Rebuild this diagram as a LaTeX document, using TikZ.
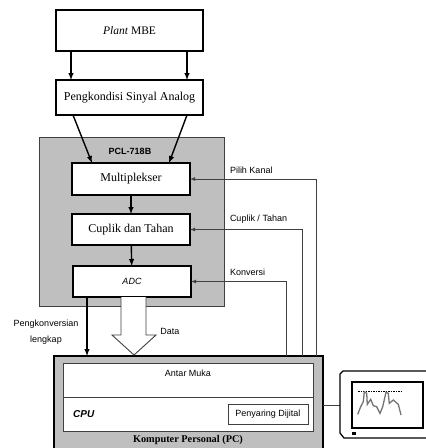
\documentclass[tikz,border=0pt]{standalone}
\usepackage{fontspec}
\setmainfont{Liberation Serif}
\setsansfont{Liberation Sans}
\usepackage{xcolor}
\usetikzlibrary{calc, arrows, positioning}
\definecolor{panelgray}{gray}{0.75}
\definecolor{edgegray}{gray}{0.25}
\tikzset{
  unit/.style={draw,line width=1.6pt,fill=white,inner sep=0pt,outer sep=0pt,font=\fontsize{12}{14}\selectfont},
  panel/.style={draw=edgegray,line width=0.8pt,fill=panelgray,inner sep=0pt,outer sep=0pt},
  thinbox/.style={draw=edgegray,line width=0.9pt,fill=white,inner sep=0pt,outer sep=0pt},
  note/.style={inner sep=0pt,outer sep=0pt,font=\sffamily\fontsize{9}{11}\selectfont},
  sigarrow/.style={-latex, line width=1.4pt},
  ctrlarrow/.style={-latex, line width=0.8pt, color=edgegray},
  wireline/.style={line width=0.9pt, color=edgegray}
}

\begin{document}
\begin{tikzpicture}[x=1pt,y=-1pt]
  \useasboundingbox (0,0) rectangle (426,448);
  \node[unit, minimum width=147pt, minimum height=41pt] (plant) at (129.5,30.5) {\fontsize{11.5}{14}\selectfont\textit{Plant} MBE};
  \node[unit, minimum width=147pt, minimum height=35pt, below=29pt of plant] (cond) {Pengkondisi Sinyal Analog};
  \draw[sigarrow] ($(plant.south west)+(15,0)$) -- ($(cond.north west)+(15,0)$);
  \draw[sigarrow] ($(plant.south east)+(-16,0)$) -- ($(cond.north east)+(-16,0)$);

  \node[panel, minimum width=185pt, minimum height=169pt] (pcl) at (131.5,221.5) {};
  \node[inner sep=0pt, font=\sffamily\bfseries\fontsize{9}{11}\selectfont] (pcllabel) at (130,151) {PCL-718B};
  \node[unit, minimum width=118pt, minimum height=32pt] (mux) at (131,179) {Multiplekser};
  \node[unit, minimum width=118pt, minimum height=31pt, below=19pt of mux] (sh) {Cuplik dan Tahan};
  \node[unit, minimum width=118pt, minimum height=31pt, below=21pt of sh, xshift=1pt, font=\sffamily\itshape\fontsize{9}{11}\selectfont] (adc) {ADC};
  \draw[sigarrow] ($(cond.south west)+(17,0)$) -- ($(mux.north west)+(20,0)$);
  \draw[sigarrow] ($(cond.south east)+(-16,0)$) -- ($(mux.north east)+(-21,0)$);
  \draw[sigarrow] (mux) -- (sh);
  \draw[sigarrow] (sh) -- (adc);

  \node[fill=panelgray, inner sep=0pt, outer sep=0pt, minimum width=269pt, minimum height=92pt] (pc) at (188.5,402) {};
  \draw[line width=2pt] (pc.south west) -- (pc.north west) -- (pc.north east) -- (pc.south east);
  \node[thinbox, minimum width=250pt, minimum height=34pt] (iface) at (188,380) {};
  \node[note, below=7pt of iface.north] (ifacetext) {Antar Muka};
  \node[thinbox, minimum width=250pt, minimum height=34pt, below=0pt of iface] (cpu) {};
  \node[thinbox, minimum width=80pt, minimum height=20pt, left=5pt of cpu.east, font=\sffamily\fontsize{9}{11}\selectfont] (filter) {Penyaring Dijital};
  \node[inner sep=0pt, right=10pt of cpu.west, font=\sffamily\bfseries\itshape\fontsize{10}{12}\selectfont] (cputext) {CPU};
  \node[inner sep=0pt, below=4pt of cpu, font=\bfseries\fontsize{10.3}{12}\selectfont] (pctext) {Komputer Personal (PC)};

  \coordinate (pilih) at ($(pc.north west)+(262,0)$);
  \coordinate (cuplik) at ($(pc.north west)+(248,0)$);
  \coordinate (konv) at ($(pc.north west)+(232.5,0)$);
  \draw[ctrlarrow] (pilih) |- (mux.east);
  \draw[ctrlarrow] (cuplik) |- (sh.east);
  \draw[ctrlarrow] (konv) |- (adc.east);
  \node[note, anchor=west] (pilihtext) at (230,170) {Pilih Kanal};
  \node[note, anchor=west] (cupliktext) at (230,219) {Cuplik / Tahan};
  \node[note, anchor=west] (konvtext) at (230,272) {Konversi};

  \coordinate (eoc) at ($(adc.south west)+(14,0)$);
  \draw[sigarrow] (eoc) -- (eoc |- pc.north);
  \node[note] (eoctext) at (46,324) {Pengkonversian};
  \node[note] (eoctexttwo) at (46,340) {lengkap};

  \coordinate (dataleft) at ($(adc.south west)+(48,0)$);
  \coordinate (dataright) at ($(adc.south west)+(73,0)$);
  \draw[wireline, fill=white, line join=miter] (dataleft) -- ++(0,38) -- ++(-9,0) -- (134,355) -- ($(dataright)+(10,38)$) -- ++(-10,0) -- (dataright);
  \node[note] (datatext) at (170,331) {Data};

  \coordinate (monin) at (340,405);
  \draw[wireline] (monin -| pc.east) -- (monin);
  \draw[line width=1.3pt] (426,371) -- (343,371) -- (340,374) -- (340,433) -- (344,438) -- (426,438);
  \node[draw, line width=1.5pt, inner sep=0pt, minimum width=71pt, minimum height=46pt] (screen) at (387.5,405) {};
  \node[fill=black, inner sep=0pt, minimum width=4pt, minimum height=3.5pt] (lamp) at (354,433.5) {};
  \draw[line width=0.7pt, dash pattern=on 1.5pt off 1pt] (358,391) -- (402,391);
  \draw[line width=1.3pt, color=black!55] (357.7,414.3) -- (360.7,406.7) -- (363.3,401.7) -- (364.3,391.7) -- (366.7,393.3) -- (367.3,404.3) -- (370.7,399.3) -- (373.3,405.7) -- (376.7,406.7) -- (380,413.3) -- (382.7,406.7) -- (386,392.3) -- (388.3,393.3) -- (389.3,403.3) -- (393.3,400) -- (398.3,404.3) -- (401,415);
\end{tikzpicture}
\end{document}
